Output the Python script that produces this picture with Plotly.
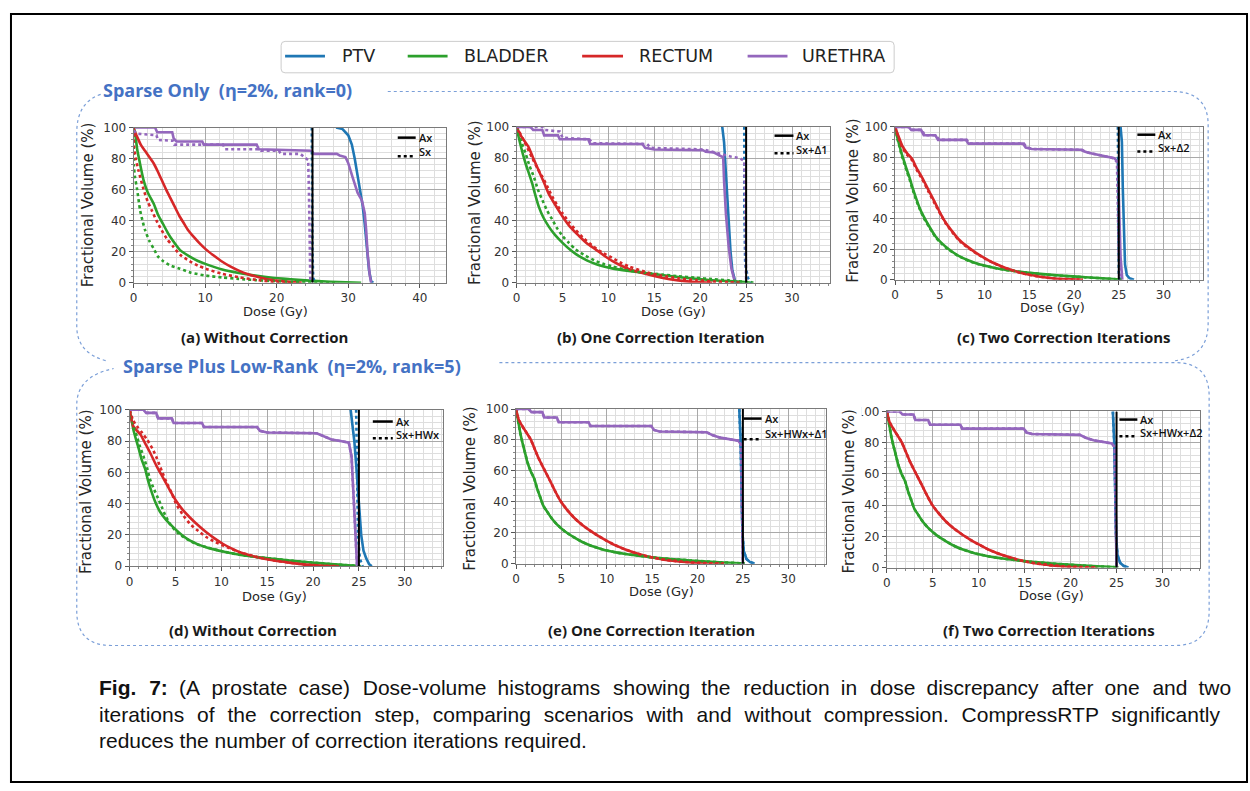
import plotly.graph_objects as go

W, H = 1250, 791

# ---------------------------------------------------------------------------
# Dose-volume histogram curves, (dose in Gy, fractional volume in %)
# AX = full dose-influence matrix, SX = compressed approximation
# ---------------------------------------------------------------------------

# (a) Sparse only, no correction
A_PTV_AX = [(28.3, 100), (29.2, 99), (30.0, 95), (30.5, 89), (30.9, 80), (31.3, 70), (31.6, 60),
            (32.0, 50), (32.3, 38), (32.6, 22), (32.9, 8), (33.2, 1), (33.5, 0)]
A_PTV_SX = [(24.9, 100), (24.9, 60), (25.0, 20), (25.1, 3), (25.4, 0)]
A_BLADDER_AX = [(0, 100), (0.2, 97), (0.5, 86), (0.8, 79), (1.4, 66), (2.0, 58), (2.8, 51), (3.4, 44),
                (4.1, 38), (4.8, 32), (5.5, 27), (6.5, 21), (7.8, 17), (9.0, 14), (10.1, 12), (12.4, 8.5),
                (14.7, 6.3), (17.0, 4.6), (19.4, 3.2), (22.0, 2.2), (24.0, 1.5), (26.3, 0.9), (28.6, 0.4),
                (31.8, 0)]
A_BLADDER_SX = [(0, 100), (0.05, 75), (0.2, 68), (0.5, 60), (0.9, 47), (1.3, 39), (1.6, 34), (2.2, 27),
                (2.8, 22), (3.4, 17), (4.1, 14), (5.2, 11), (6.5, 9), (8.0, 6.5), (10.1, 4.6), (12.4, 3.4),
                (14.7, 2.5), (17.0, 1.7), (19.4, 1.1), (22.0, 0.6), (24.0, 0.4), (26.0, 0.2), (28.6, 0)]
A_RECTUM_AX = [(0, 99), (0.4, 95), (1.0, 89), (1.6, 85), (2.2, 81), (2.8, 77), (3.4, 71.5), (4.0, 65.5),
               (4.6, 59.5), (5.2, 54), (5.8, 48.5), (6.4, 43), (7.0, 38.5), (7.6, 34), (8.5, 29),
               (9.3, 25), (10.1, 21.5), (11.2, 17.5), (12.4, 13.5), (13.5, 10.5), (14.7, 7.8),
               (16.0, 5.5), (17.5, 3.6), (19.4, 1.8), (21.7, 0.6), (23.5, 0)]
A_RECTUM_SX = [(0, 100), (0.05, 88), (0.3, 80), (0.7, 72), (1.4, 60), (2.0, 52), (2.5, 47), (3.2, 40),
               (3.9, 34), (4.7, 28), (5.5, 23.5), (6.5, 18), (7.8, 14), (9.0, 11), (10.1, 9), (12.4, 5.7),
               (14.7, 3.6), (17.5, 1.6), (20.3, 0.4), (22.0, 0)]
A_URETHRA_AX = [(0, 100), (3.0, 100), (3.3, 97), (5.4, 97), (5.6, 93), (6.0, 91), (9.6, 91), (9.8, 89),
                (17.2, 89), (17.5, 86), (24.9, 85), (25.2, 83), (28.4, 83), (28.8, 82), (29.6, 81),
                (30.0, 77), (30.6, 68), (31.3, 58), (31.9, 53), (32.3, 45), (32.5, 34), (32.7, 19),
                (33.0, 5), (33.2, 0)]
A_URETHRA_SX = [(0, 98), (0.5, 96), (3.2, 95), (3.4, 92), (5.5, 91.5), (5.7, 89), (12.5, 89), (12.8, 86),
                (17.5, 86), (17.8, 85), (20.3, 85), (20.6, 83), (23.3, 83), (23.8, 81), (24.4, 79),
                (24.5, 60), (24.6, 20), (24.7, 0)]

# (b) Sparse only, one correction iteration
B_PTV_AX = [(22.4, 100), (22.6, 90), (22.7, 80), (22.9, 60), (23.1, 40), (23.3, 20), (23.5, 8),
            (23.8, 1), (24.1, 0)]
B_PTV_SX = [(24.8, 100), (24.8, 50), (24.9, 12), (25.2, 3), (25.6, 0)]
B_BLADDER_AX = [(0, 100), (0.2, 94), (0.4, 89), (0.7, 82), (1.0, 76), (1.4, 69), (1.7, 63.5), (2.0, 57),
                (2.4, 49), (2.9, 42), (3.5, 36), (4.2, 30.5), (5.0, 25.6), (5.9, 20.8), (6.8, 17),
                (7.7, 14.2), (8.6, 12), (9.5, 10.4), (10.4, 9.2), (12.2, 7.6), (14.0, 6.2), (15.8, 5),
                (17.6, 3.7), (19.5, 2.5), (21.3, 1.6), (23.1, 1), (24.9, 0.4), (25.5, 0)]
B_BLADDER_SX = [(0, 100), (0.25, 95), (0.6, 89), (1.0, 82.5), (1.4, 75), (1.9, 67.5), (2.3, 60),
                (2.8, 53), (3.3, 46.5), (3.9, 40.3), (4.4, 35), (5.0, 30), (5.7, 25.5), (6.4, 21.5),
                (7.5, 17.3), (8.6, 14), (9.5, 12), (10.4, 10.5), (12.2, 7.9), (14.0, 6.4), (15.8, 5.3),
                (17.6, 4.2), (19.5, 3.2), (21.3, 2.3), (23.1, 1.5), (25.3, 0.4), (25.8, 0)]
B_RECTUM_AX = [(0, 100), (0.3, 96), (0.6, 93), (1.3, 87), (1.8, 80), (2.4, 72), (3.0, 64), (3.5, 57),
               (4.2, 50), (5.0, 42.5), (5.8, 36), (6.8, 30), (7.7, 25), (8.6, 21.4), (9.5, 17.5),
               (10.4, 14), (11.3, 11.2), (12.2, 8.8), (14.0, 5.7), (15.8, 3.2), (17.6, 1.5), (19.5, 0.4),
               (21.3, 0)]
B_RECTUM_SX = [(0, 100), (0.1, 99), (0.8, 91), (1.7, 80), (2.3, 73), (2.8, 68), (3.4, 61), (3.9, 55),
               (4.5, 49), (5.0, 44.5), (5.7, 39), (6.4, 34), (7.3, 28.5), (8.2, 24), (9.3, 19.5),
               (10.4, 16), (11.3, 13), (12.2, 10.5), (14.0, 7), (15.8, 4.5), (17.6, 2.8), (19.5, 1.6),
               (21.3, 0.8), (23.1, 0.4), (24.5, 0)]
B_URETHRA_AX = [(0, 100), (1.5, 100), (1.8, 98), (2.8, 98), (3.0, 94.5), (4.5, 94.5), (4.7, 92),
                (7.8, 92), (8.0, 89), (13.7, 89), (14.0, 86.5), (15.0, 85.5), (20.3, 85), (20.6, 84),
                (21.5, 83.5), (22.0, 82), (22.5, 80.5), (22.6, 65), (22.8, 44), (23.1, 23), (23.4, 9),
                (23.8, 0)]
B_URETHRA_SX = [(0, 100), (2.8, 100), (3.1, 98), (4.7, 97), (5.0, 93), (7.9, 92), (8.3, 89.5),
                (14.2, 89), (14.6, 86.5), (20.3, 85.5), (21.0, 84.5), (22.2, 82.5), (23.3, 81),
                (24.3, 80), (24.8, 78), (24.9, 50), (25.0, 10), (25.0, 0)]

# (c) Sparse only, two correction iterations
C_PTV_AX = [(25.2, 100), (25.35, 90), (25.45, 60), (25.55, 30), (25.7, 10), (25.9, 3), (26.2, 1),
            (26.7, 0)]
C_PTV_SX = [(24.9, 100), (24.95, 50), (25.0, 5), (25.1, 0)]
C_BLADDER_AX = [(0, 100), (0.2, 94), (0.45, 88.5), (0.7, 83), (1.0, 77.5), (1.3, 72), (1.6, 67),
                (1.9, 61), (2.3, 54), (2.7, 47.5), (3.2, 41.3), (3.8, 35), (4.5, 28.5), (5.2, 24),
                (6.0, 20), (7.0, 16), (8.3, 12.4), (9.5, 10), (10.9, 8.1), (12.3, 6.6), (13.8, 5.4),
                (15.6, 4.2), (17.5, 3.2), (19.4, 2.4), (21.3, 1.7), (23.2, 0.9), (25.0, 0.2), (25.3, 0)]
C_BLADDER_SX = [(0, 100), (0.2, 93.5), (0.45, 88), (0.7, 82), (1.0, 76.5), (1.3, 71), (1.6, 66),
                (1.9, 60), (2.3, 53), (2.7, 47), (3.2, 40.5), (3.8, 34.5), (4.5, 28), (5.2, 23.5),
                (6.0, 19.6), (7.0, 15.8), (8.3, 12.2), (9.5, 9.9), (10.9, 8), (12.3, 6.5), (13.8, 5.3),
                (15.6, 4.1), (17.5, 3.1), (19.4, 2.3), (21.3, 1.6), (23.2, 0.9), (25.0, 0.2), (25.3, 0)]
C_RECTUM_AX = [(0, 100), (0.3, 95), (0.8, 87.5), (1.3, 83), (1.9, 79), (2.4, 73), (3.0, 67), (3.7, 59),
               (4.5, 50), (5.1, 43), (5.7, 37), (6.4, 31.5), (7.1, 26.5), (8.0, 22), (9.0, 17.8),
               (10.0, 14.2), (10.9, 11.3), (11.8, 9), (12.7, 7), (13.8, 5), (14.9, 3.4), (16.2, 2),
               (17.5, 1), (19.0, 0.4), (21.0, 0)]
C_RECTUM_SX = [(0, 100), (0.3, 94), (0.8, 86.5), (1.3, 82), (1.9, 78), (2.4, 72), (3.0, 66), (3.7, 58),
               (4.5, 49), (5.1, 42.5), (5.7, 36.5), (6.4, 31), (7.1, 26), (8.0, 21.5), (9.0, 17.5),
               (10.0, 14), (10.9, 11.2), (11.8, 8.8), (12.7, 6.9), (13.8, 4.9), (14.9, 3.3), (16.2, 2),
               (17.5, 1), (19.0, 0.4), (21.0, 0)]
C_URETHRA_AX = [(0, 100), (1.5, 100), (1.8, 98), (2.9, 98), (3.2, 94.5), (4.5, 94.5), (4.8, 91.5),
                (7.9, 91.5), (8.2, 89), (14.3, 89), (14.6, 86.5), (15.3, 85.5), (20.8, 85), (21.1, 84),
                (21.6, 83), (22.4, 82), (23.3, 80.5), (24.5, 79.5), (24.9, 77), (25.0, 50), (25.2, 15),
                (25.4, 0)]
C_URETHRA_SX = [(0, 100), (1.6, 100), (1.9, 98), (3.0, 98), (3.3, 94.5), (4.6, 94.5), (4.9, 91.5),
                (8.0, 91.5), (8.3, 89), (14.4, 89), (14.7, 86.5), (15.4, 85.5), (20.9, 85), (21.2, 84),
                (21.7, 83), (22.5, 82), (23.4, 80.5), (24.4, 79.5), (24.8, 77), (24.9, 50), (25.0, 15),
                (25.2, 0)]

# (d) Sparse plus low-rank, no correction
D_PTV_AX = [(24.1, 100), (24.3, 90), (24.5, 80), (24.7, 65), (24.9, 50), (25.1, 33), (25.25, 20),
            (25.5, 10), (25.8, 5), (26.1, 1.5), (26.4, 0)]
D_PTV_SX = [(24.7, 100), (24.8, 60), (24.9, 20), (25.1, 5), (25.4, 0)]
D_BLADDER_AX = [(0, 100), (0.2, 94), (0.4, 87.5), (0.7, 81), (1.0, 75), (1.3, 68.5), (1.7, 62),
                (2.0, 55), (2.4, 47.5), (2.8, 41), (3.3, 35), (4.0, 29.5), (4.8, 24.7), (5.7, 20),
                (6.6, 16.3), (7.5, 13.8), (8.4, 12), (9.3, 10.6), (10.2, 9.4), (12.0, 7.3), (13.8, 5.9),
                (15.6, 4.8), (17.4, 3.7), (19.2, 2.7), (21.0, 1.8), (22.8, 1), (24.9, 0.2), (25.2, 0)]
D_BLADDER_SX = [(0, 100), (0.25, 93.5), (0.5, 88), (0.8, 83), (1.1, 77), (1.5, 70.5), (1.9, 63),
                (2.2, 56), (2.6, 50), (3.1, 43.5), (3.5, 38), (3.9, 32.5), (4.4, 27), (5.2, 21.5),
                (6.2, 17.4), (7.3, 14.2), (8.4, 12.1), (10.2, 9.4), (12.0, 7.3), (13.8, 5.9),
                (15.6, 4.8), (17.4, 3.7), (19.2, 2.7), (21.0, 1.8), (22.8, 1), (24.9, 0.2), (25.2, 0)]
D_RECTUM_AX = [(0, 100), (0.4, 89.5), (1.2, 84), (1.7, 78.5), (2.2, 73), (2.9, 64.5), (3.7, 56),
               (4.4, 48.5), (5.1, 41.5), (5.8, 36), (6.6, 31), (7.5, 26), (8.4, 21.5), (9.3, 17.6),
               (10.2, 14.2), (11.1, 11.4), (12.0, 9), (12.9, 7.3), (13.8, 5.9), (15.6, 3.8),
               (17.4, 2.3), (19.2, 1), (21.0, 0.3), (22.8, 0)]
D_RECTUM_SX = [(0, 100), (0.4, 93), (0.8, 89.5), (1.4, 85), (1.9, 81), (2.5, 75), (3.0, 68.6),
               (3.5, 61), (4.0, 54), (4.6, 46.5), (5.1, 39.5), (5.8, 33), (6.6, 27), (7.5, 22.5),
               (8.4, 18.5), (9.3, 15.6), (10.2, 13.2), (11.1, 11), (12.0, 9), (13.8, 6), (15.6, 3.8),
               (17.4, 2.3), (19.2, 1), (21.0, 0.3), (22.8, 0)]
D_URETHRA_AX = [(0, 100), (1.5, 100), (1.8, 98), (2.9, 98), (3.1, 94.5), (4.6, 94.5), (4.8, 91.5),
                (7.9, 91.5), (8.1, 89), (13.9, 89), (14.2, 86.5), (15.0, 85.5), (20.4, 85), (20.8, 84),
                (21.2, 83), (22.0, 81), (23.0, 80), (23.9, 79), (24.2, 70), (24.4, 45), (24.6, 15),
                (24.8, 0)]

# (e) / (f) Sparse plus low-rank, one and two correction iterations
E_PTV_AX = [(24.6, 100), (24.75, 80), (24.85, 50), (24.95, 20), (25.1, 8), (25.4, 3), (25.8, 1),
            (26.3, 0)]
E_BLADDER_AX = [(0, 100), (0.15, 95), (0.33, 89), (0.5, 83.5), (0.7, 78.4), (1.0, 71.5), (1.25, 65.7),
                (1.6, 60), (2.0, 55), (2.3, 49), (2.7, 42.4), (3.0, 37.5), (3.4, 33.9), (3.9, 29.5),
                (4.5, 25.4), (5.4, 20.8), (6.4, 17), (7.3, 14), (8.2, 11.7), (9.1, 10), (10.0, 8.5),
                (11.0, 7.3), (11.9, 6.4), (13.7, 5), (15.5, 3.8), (17.4, 2.9), (19.2, 2.1), (21.0, 1.4),
                (22.9, 0.8), (25.0, 0.2), (25.2, 0)]
E_RECTUM_AX = [(0, 100), (0.3, 93), (0.9, 87), (1.6, 80.5), (2.0, 75), (2.5, 68), (3.1, 61), (3.8, 53),
               (4.3, 47), (4.9, 40.5), (5.6, 35), (6.4, 29.7), (7.3, 25), (8.2, 21.2), (9.1, 17.8),
               (10.0, 14.8), (10.9, 12), (11.9, 9.5), (13.0, 7.2), (14.1, 5.3), (15.2, 3.8),
               (16.3, 2.6), (17.7, 1.6), (19.2, 0.8), (21.0, 0.3), (22.9, 0)]
E_URETHRA_AX = [(0, 100), (1.4, 100), (1.7, 98), (2.9, 98), (3.1, 94.5), (4.5, 94.5), (4.7, 91.5),
                (8.0, 91.5), (8.2, 89), (14.9, 89), (15.2, 86.5), (15.8, 85.5), (21.0, 85), (21.3, 84),
                (21.7, 83), (22.5, 81.5), (23.5, 80.5), (24.5, 79.5), (24.8, 77), (24.9, 40), (25.0, 0)]

RX_DOSE = 25.0          # prescription marker line
VOL_SPAN = [0, 100]

STRUCTURES = ["PTV", "BLADDER", "RECTUM", "URETHRA"]
COLORS = {"PTV": "#1f77b4", "BLADDER": "#2ca02c", "RECTUM": "#d62728", "URETHRA": "#9467bd"}

# solid (Ax) / dotted (approximation) pairs for each of the six panels
PANEL_CURVES = [
    {"PTV": (A_PTV_AX, A_PTV_SX), "BLADDER": (A_BLADDER_AX, A_BLADDER_SX),
     "RECTUM": (A_RECTUM_AX, A_RECTUM_SX), "URETHRA": (A_URETHRA_AX, A_URETHRA_SX)},
    {"PTV": (B_PTV_AX, B_PTV_SX), "BLADDER": (B_BLADDER_AX, B_BLADDER_SX),
     "RECTUM": (B_RECTUM_AX, B_RECTUM_SX), "URETHRA": (B_URETHRA_AX, B_URETHRA_SX)},
    {"PTV": (C_PTV_AX, C_PTV_SX), "BLADDER": (C_BLADDER_AX, C_BLADDER_SX),
     "RECTUM": (C_RECTUM_AX, C_RECTUM_SX), "URETHRA": (C_URETHRA_AX, C_URETHRA_SX)},
    {"PTV": (D_PTV_AX, D_PTV_SX), "BLADDER": (D_BLADDER_AX, D_BLADDER_SX),
     "RECTUM": (D_RECTUM_AX, D_RECTUM_SX), "URETHRA": (D_URETHRA_AX, D_URETHRA_AX)},
    {"PTV": (E_PTV_AX, E_PTV_AX), "BLADDER": (E_BLADDER_AX, E_BLADDER_AX),
     "RECTUM": (E_RECTUM_AX, E_RECTUM_AX), "URETHRA": (E_URETHRA_AX, E_URETHRA_AX)},
    {"PTV": (E_PTV_AX, E_PTV_AX), "BLADDER": (E_BLADDER_AX, E_BLADDER_AX),
     "RECTUM": (E_RECTUM_AX, E_RECTUM_AX), "URETHRA": (E_URETHRA_AX, E_URETHRA_AX)},
]

PANEL_TITLES = ["(a) Without Correction", "(b) One Correction Iteration", "(c) Two Correction Iterations",
                "(d) Without Correction", "(e) One Correction Iteration", "(f) Two Correction Iterations"]
APPROX_LABELS = ["Sx", "Sx+Δ1", "Sx+Δ2", "Sx+HWx", "Sx+HWx+Δ1", "Sx+HWx+Δ2"]
EXACT_LABEL = "Ax"
GROUP_TITLES = ["Sparse Only\u00a0 (η=2%, rank=0)", "Sparse Plus Low-Rank\u00a0 (η=2%, rank=5)"]
X_TITLE = "Dose (Gy)"
Y_TITLE = "Fractional Volume (%)"
CAPTION_LINES = [
    "<b>Fig. 7:</b> (A prostate case) Dose-volume histograms showing the reduction in dose discrepancy after one and two",
    "iterations of the correction step, comparing scenarios with and without compression. CompressRTP significantly",
    "reduces the number of correction iterations required.",
]
# word-gap patterns: the first two lines are set flush to the right margin
GAP_WIDE, GAP_MID = " \u2004", " \u2005"
CAPTION_GAPS = [(GAP_WIDE, GAP_MID), (GAP_WIDE,), (" ",)]

# ---------------------------------------------------------------------------
# geometry in page pixels
# ---------------------------------------------------------------------------
# left, right, top, bottom, x max, major x step, minor x step
PANEL_BOX = [
    (130.0, 443.0, 122.7, 280.7, 43.6, 10, 2),
    (514.3, 828.3, 122.0, 280.7, 34.1, 5, 1),
    (894.0, 1202.7, 122.0, 277.7, 34.4, 5, 1),
    (126.0, 440.7, 410.0, 569.3, 34.2, 5, 1),
    (513.7, 825.0, 409.3, 566.7, 34.2, 5, 1),
    (885.7, 1200.0, 411.7, 570.7, 34.1, 5, 1),
]
TITLE_POS = [(261, 336), (659, 336), (1063, 336), (250, 634), (650, 634), (1048, 634)]
XLAB_POS = [(272, 310), (672, 310), (1052, 306), (271, 600), (660, 595), (1051, 599)]
YLAB_POS = [(85, 201), (473, 199), (851, 197), (83, 493), (468, 490), (848, 493)]
# x0, x1, y solid, y dotted, y label of approximation
MINI_LEG = [(395, 413, 133, 152, 147), (773, 792, 131, 149, 145), (1137, 1155, 130, 147, 143),
            (370, 390, 422, 439, 435), (742, 760, 419, 440, 434), (1119, 1137, 420, 437, 433)]


def fx(x):
    return x / W


def fy(y):
    return 1 - y / H


def path(cmds):
    out = []
    for c in cmds:
        if isinstance(c, str):
            out.append(c)
        else:
            out.append(f"{fx(c[0]):.5f},{fy(c[1]):.5f}")
    return " ".join(out)


def spaced(line, gaps):
    words = line.split(" ")
    out = words[0]
    for j, w in enumerate(words[1:]):
        out += gaps[j % len(gaps)] + w
    return out


fig = go.Figure()
layout = dict(
    width=W, height=H, margin=dict(l=0, r=0, t=0, b=0),
    paper_bgcolor="white", plot_bgcolor="white", showlegend=False,
    font=dict(family="DejaVu Sans", color="#262626"),
)

annotations = []
shapes = []

for i, (box, curves) in enumerate(zip(PANEL_BOX, PANEL_CURVES)):
    n = "" if i == 0 else str(i + 1)
    left, right, top, bottom, xmax, xmaj, xmin = box
    axis_common = dict(
        showline=True, mirror=True, linecolor="#7a7a7a", linewidth=1,
        showgrid=True, gridcolor="#a9a9a9", gridwidth=1, zeroline=False,
        ticks="outside", ticklen=4, tickcolor="#555555", tickwidth=1,
        tickfont=dict(family="DejaVu Sans", size=12, color="#333333"),
    )
    layout["xaxis" + n] = dict(
        domain=[fx(left), fx(right)], range=[0, xmax], anchor="y" + n,
        tick0=0, dtick=xmaj,
        minor=dict(dtick=xmin, tick0=0, showgrid=True, gridcolor="#dedede", gridwidth=1,
                   ticks="outside", ticklen=2, tickcolor="#888888"),
        **axis_common,
    )
    layout["yaxis" + n] = dict(
        domain=[fy(bottom), fy(top)], range=VOL_SPAN, anchor="x" + n,
        tick0=0, dtick=20,
        minor=dict(dtick=4, tick0=0, showgrid=True, gridcolor="#dedede", gridwidth=1,
                   ticks="outside", ticklen=2, tickcolor="#888888"),
        **axis_common,
    )

    for style, dash in ((0, None), (1, "dot")):
        for s in STRUCTURES:
            pts = curves[s][style]
            smooth = s in ("BLADDER", "RECTUM")
            fig.add_trace(go.Scatter(
                x=[p[0] for p in pts], y=[p[1] for p in pts], mode="lines",
                line=dict(color=COLORS[s], width=2.6, dash=dash,
                          shape="spline" if smooth else "linear",
                          smoothing=0.6 if smooth else None),
                xaxis="x" + n, yaxis="y" + n, hoverinfo="skip"))
    # prescription line
    fig.add_trace(go.Scatter(
        x=[RX_DOSE, RX_DOSE], y=VOL_SPAN, mode="lines",
        line=dict(color="black", width=2), xaxis="x" + n, yaxis="y" + n, hoverinfo="skip"))

    # panel title and axis titles
    tx, ty = TITLE_POS[i]
    annotations.append(dict(x=fx(tx), y=fy(ty), xref="paper", yref="paper", text=PANEL_TITLES[i],
                            showarrow=False, xanchor="center", yanchor="middle",
                            font=dict(family="Open Sans", size=15, color="#1a1a1a", weight=700)))
    lx, ly = XLAB_POS[i]
    annotations.append(dict(x=fx(lx), y=fy(ly), xref="paper", yref="paper", text=X_TITLE,
                            showarrow=False, xanchor="center", yanchor="middle",
                            font=dict(family="DejaVu Sans", size=13, color="#262626")))
    vx, vy = YLAB_POS[i]
    annotations.append(dict(x=fx(vx), y=fy(vy), xref="paper", yref="paper", text=Y_TITLE,
                            showarrow=False, xanchor="center", yanchor="middle", textangle=-90,
                            font=dict(family="DejaVu Sans", size=15, color="#262626")))

    # line-style key inside each panel
    x0, x1, ys, yd, yl = MINI_LEG[i]
    shapes.append(dict(type="line", xref="paper", yref="paper", x0=fx(x0), x1=fx(x1), y0=fy(ys), y1=fy(ys),
                       line=dict(color="black", width=2.5)))
    shapes.append(dict(type="line", xref="paper", yref="paper", x0=fx(x0), x1=fx(x1), y0=fy(yd), y1=fy(yd),
                       line=dict(color="black", width=2.5, dash="dot")))
    annotations.append(dict(x=fx(x1 + 1), y=fy(ys), xref="paper", yref="paper", text=EXACT_LABEL,
                            showarrow=False, xanchor="left", yanchor="middle",
                            font=dict(family="Open Sans", size=11, color="#111111", weight=600)))
    annotations.append(dict(x=fx(x1 + 1), y=fy(yl), xref="paper", yref="paper", text=APPROX_LABELS[i],
                            showarrow=False, xanchor="left", yanchor="middle",
                            font=dict(family="Open Sans", size=11, color="#111111", weight=600)))

# clipped edge of the (f) panel image
shapes.append(dict(type="rect", xref="paper", yref="paper", x0=fx(845), x1=fx(860.5), y0=fy(420),
                   y1=fy(403), fillcolor="white", line=dict(width=0), layer="above"))

# structure legend across the top
shapes.append(dict(type="path", xref="paper", yref="paper",
                   path=path(["M", (282, 35), "L", (889, 35), "Q", (893, 35), (893, 39), "L", (893, 63),
                              "Q", (893, 67), (889, 67), "L", (282, 67), "Q", (278, 67), (278, 63),
                              "L", (278, 39), "Q", (278, 35), (282, 35), "Z"]),
                   line=dict(color="#cccccc", width=1), fillcolor="white"))
LEG_LINES = [(282, 322), (405, 445), (580, 621), (746, 786)]
LEG_TEXT_X = [337, 459, 635, 799]
for s, (a0, a1), tx in zip(STRUCTURES, LEG_LINES, LEG_TEXT_X):
    shapes.append(dict(type="line", xref="paper", yref="paper", x0=fx(a0), x1=fx(a1), y0=fy(50), y1=fy(50),
                       line=dict(color=COLORS[s], width=2.6)))
    annotations.append(dict(x=fx(tx), y=fy(50), xref="paper", yref="paper", text=s, showarrow=False,
                            xanchor="left", yanchor="middle",
                            font=dict(family="DejaVu Sans", size=17.5, color="#222222")))

# group frames (dashed rounded outlines)
FRAME = dict(color="#7b9fd8", width=1.2, dash="3px,3px")
shapes.append(dict(type="path", xref="paper", yref="paper", line=FRAME,
                   path=path(["M", (385, 86), "L", (1172, 86), "Q", (1208, 86), (1208, 120),
                              "L", (1208, 322), "Q", (1208, 356), (1175, 360)])))
shapes.append(dict(type="path", xref="paper", yref="paper", line=FRAME,
                   path=path(["M", (97, 89), "Q", (73, 97), (73, 128), "L", (73, 325),
                              "Q", (73, 352), (102, 360)])))
shapes.append(dict(type="path", xref="paper", yref="paper", line=FRAME,
                   path=path(["M", (497, 362), "L", (1175, 362), "Q", (1209, 362), (1209, 396),
                              "L", (1209, 615), "Q", (1209, 650), (1175, 650), "L", (108, 650),
                              "Q", (73, 650), (73, 615), "L", (73, 405), "Q", (73, 376), (110, 368)])))
annotations.append(dict(x=fx(97), y=fy(85), xref="paper", yref="paper", text=GROUP_TITLES[0],
                        showarrow=False, xanchor="left", yanchor="middle",
                        font=dict(family="Open Sans", size=18, color="#4472c4", weight=700)))
annotations.append(dict(x=fx(117), y=fy(365), xref="paper", yref="paper", text=GROUP_TITLES[1],
                        showarrow=False, xanchor="left", yanchor="middle",
                        font=dict(family="Open Sans", size=18, color="#4472c4", weight=700)))

# caption
for k, (line, gaps) in enumerate(zip(CAPTION_LINES, CAPTION_GAPS)):
    annotations.append(dict(x=fx(93), y=fy(693 + 27 * k), xref="paper", yref="paper",
                            text=spaced(line, gaps), showarrow=False, xanchor="left", yanchor="middle",
                            font=dict(family="Liberation Sans", size=21, color="#111111")))

# outer frame
shapes.append(dict(type="rect", xref="paper", yref="paper", x0=fx(7), x1=fx(1247), y0=fy(789), y1=fy(7),
                   line=dict(color="black", width=2), fillcolor="rgba(0,0,0,0)"))

layout["annotations"] = annotations
layout["shapes"] = shapes
fig.update_layout(**layout)
fig.write_html("out.html")
